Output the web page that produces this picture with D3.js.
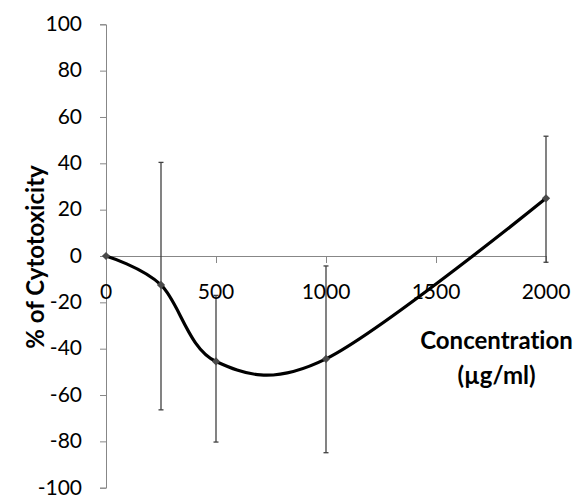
<!DOCTYPE html>
<html>
<head>
<meta charset="utf-8">
<script src="https://cdn.jsdelivr.net/npm/d3@7"></script>
<style>
  body { margin: 0; background: #fff; }
  svg { display: block; }
  text { font-variant-ligatures: none; font-feature-settings: "liga" 0, "dlig" 0; }
</style>
</head>
<body>
<svg id="chart" width="579" height="496"></svg>
<script>
// values
const concentrations = [0, 250, 500, 1000, 2000]
const cytotoxicity = [0, -12.5, -45.5, -44.4, 24.9]
const errTop = [0, 40.4, -17, -4.3, 51.7]
const errBottom = [0, -66.4, -80.3, -84.9, -2.7]
const xTicks = [0, 500, 1000, 1500, 2000]
const yTicks = [-100, -80, -60, -40, -20, 0, 20, 40, 60, 80, 100]

const axisColor = '#878787'
const font = 'Lato, "Open Sans", sans-serif'

const svg = d3.select('#chart')

const xScale = d3.scaleLinear()
  .domain([0, 2000])
  .range([106, 546])

const yScale = d3.scaleLinear()
  .domain([-100, 100])
  .range([487.7, 24.3])

const points = concentrations.map((c, i) => ({
  x: c, y: cytotoxicity[i], top: errTop[i], bottom: errBottom[i]
}))

// y axis, plain hyphen for negatives like the original
const yAxis = d3.axisLeft(yScale)
  .tickValues(yTicks)
  .tickSize(6)
  .tickPadding(18)
  .tickFormat(d => String(d))

const yG = svg.append('g')
  .attr('transform', `translate(${xScale(0)},0)`)
  .call(yAxis)

yG.select('.domain').attr('stroke', axisColor)
yG.selectAll('.tick line').attr('stroke', axisColor)
yG.selectAll('.tick text')
  .attr('fill', '#000')
  .attr('font-family', font)
  .attr('font-size', 21)
  .attr('dy', '0.3em')

// x axis at y = 0
const xAxis = d3.axisBottom(xScale)
  .tickValues(xTicks)
  .tickSize(7)
  .tickSizeOuter(0)

const xG = svg.append('g')
  .attr('transform', `translate(0,${yScale(0)})`)
  .call(xAxis)

xG.select('.domain').attr('stroke', axisColor)
xG.selectAll('.tick line').attr('stroke', axisColor)
xG.selectAll('.tick text').remove()

// error bars
const errG = svg.append('g')
  .attr('stroke', '#404040')
  .attr('stroke-width', 1.3)

points.filter(d => d.top !== d.bottom).forEach(d => {
  const cx = xScale(d.x)
  errG.append('line')
    .attr('x1', cx).attr('x2', cx)
    .attr('y1', yScale(d.top)).attr('y2', yScale(d.bottom))
  errG.append('line')
    .attr('x1', cx - 2.5).attr('x2', cx + 2.5)
    .attr('y1', yScale(d.top)).attr('y2', yScale(d.top))
  errG.append('line')
    .attr('x1', cx - 2.5).attr('x2', cx + 2.5)
    .attr('y1', yScale(d.bottom)).attr('y2', yScale(d.bottom))
})

// x tick labels
svg.append('g')
  .selectAll('text')
  .data(xTicks)
  .join('text')
  .attr('x', d => xScale(d))
  .attr('y', yScale(0) + 43)
  .attr('text-anchor', 'middle')
  .attr('font-family', font)
  .attr('font-size', 21)
  .attr('fill', '#000')
  .text(d => d)

// smoothed line
const line = d3.line()
  .x(d => xScale(d.x))
  .y(d => yScale(d.y))
  .curve(d3.curveCardinal.tension(0))

svg.append('path')
  .datum(points)
  .attr('d', line)
  .attr('fill', 'none')
  .attr('stroke', '#000')
  .attr('stroke-width', 3.2)
  .attr('stroke-linecap', 'round')

// diamond markers
svg.append('g')
  .selectAll('path')
  .data(points)
  .join('path')
  .attr('d', d3.symbol(d3.symbolSquare, 34))
  .attr('transform', d => `translate(${xScale(d.x)},${yScale(d.y)}) rotate(45)`)
  .attr('fill', '#4a4a4a')

// axis titles
const title = (sel) => sel
  .attr('text-anchor', 'middle')
  .attr('font-family', font)
  .attr('font-weight', 'bold')
  .attr('font-size', 24)
  .attr('fill', '#000')

svg.append('text')
  .attr('transform', 'translate(44,257) rotate(-90)')
  .call(title)
  .text('% of Cytotoxicity')

svg.append('text')
  .attr('x', 496.5)
  .attr('y', 349)
  .call(title)
  .text('Concentration')

svg.append('text')
  .attr('x', 496.5)
  .attr('y', 384)
  .call(title)
  .text('(µg/ml)')
</script>
</body>
</html>
